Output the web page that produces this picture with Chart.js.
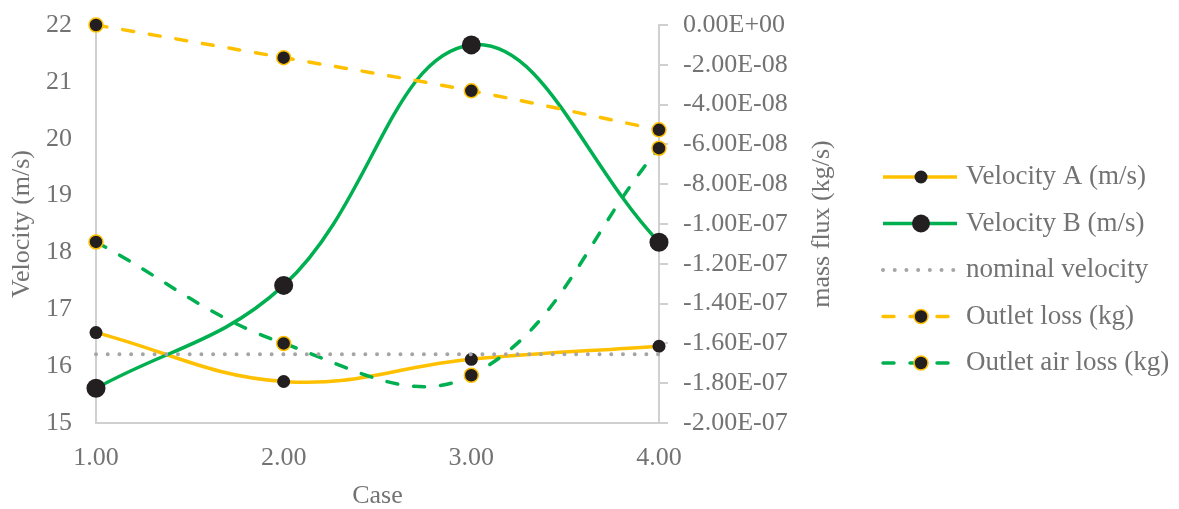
<!DOCTYPE html>
<html>
<head>
<meta charset="utf-8">
<script src="https://cdn.jsdelivr.net/npm/chart.js@4.4.1/dist/chart.umd.min.js"></script>
<style>
  html, body { margin: 0; padding: 0; background: #ffffff; }
  #wrap { position: relative; width: 1179px; height: 509px; }
</style>
</head>
<body>
<div id="wrap"><canvas id="c"></canvas></div>
<script>
// ---- data ----
const cases = [1, 2, 3, 4];
const velocityA = [16.59, 15.73, 16.12, 16.35];
const velocityB = [15.61, 17.42, 21.65, 18.18];
const nominalVelocity = [16.21, 16.21, 16.21, 16.21];
const outletLoss = [0, -1.64e-8, -3.31e-8, -5.27e-8];
const outletAirLoss = [-1.09e-7, -1.60e-7, -1.76e-7, -6.19e-8];
const seriesNames = ["Velocity A (m/s)", "Velocity B (m/s)", "nominal velocity", "Outlet loss (kg)", "Outlet air loss (kg)"];
const leftTicks = [15, 16, 17, 18, 19, 20, 21, 22];
const rightTicksRange = [-2e-7, 0];

const FONT = "'Liberation Serif', 'Times New Roman', serif";
const TXT = '#737373';
const AXIS = '#d0d0d0';
const ORANGE = '#FFC000';
const GREEN = '#00B050';
const GRAY = '#A5A5A5';
const MARK = '#231F20';

const pts = arr => cases.map((c, i) => ({ x: c, y: arr[i] }));

function sci(v) {
  if (Math.abs(v) < 1e-20) return '0.00E+00';
  const s = v.toExponential(2);
  const [m, e] = s.split('e');
  const sign = e[0] === '-' ? '-' : '+';
  const digits = e.replace(/^[-+]/, '').padStart(2, '0');
  return m + 'E' + sign + digits;
}

const legendPlugin = {
  id: 'customLegend',
  afterDraw(chart) {
    const ctx = chart.ctx;
    ctx.save();
    ctx.font = '26px ' + FONT;
    ctx.fillStyle = TXT;
    ctx.textAlign = 'center';
    ctx.textBaseline = 'middle';
    const ca = chart.chartArea;
    ctx.translate(822, (ca.top + ca.bottom) / 2);
    ctx.rotate(-Math.PI / 2);
    ctx.fillText('mass flux (kg/s)', 0, 0);
    ctx.restore();

    const x0 = 883, x1 = 957, xm = 921, xt = 966;
    chart.data.datasets.forEach((ds, i) => {
      const y = 177 + i * 46.5;
      ctx.save();
      ctx.strokeStyle = ds.borderColor;
      ctx.lineWidth = ds.borderWidth;
      ctx.lineCap = ds.borderCapStyle || 'butt';
      ctx.setLineDash(ds.borderDash || []);
      ctx.beginPath();
      ctx.moveTo(x0, y);
      ctx.lineTo(x1, y);
      ctx.stroke();
      ctx.setLineDash([]);
      if (ds.pointRadius > 0) {
        ctx.beginPath();
        ctx.arc(xm, y, Math.min(ds.pointRadius, 9), 0, Math.PI * 2);
        ctx.fillStyle = ds.pointBackgroundColor;
        ctx.fill();
        if (ds.pointBorderWidth > 0) {
          ctx.lineWidth = ds.pointBorderWidth;
          ctx.strokeStyle = ds.pointBorderColor;
          ctx.stroke();
        }
      }
      ctx.font = '27px ' + FONT;
      ctx.fillStyle = TXT;
      ctx.textAlign = 'left';
      ctx.textBaseline = 'middle';
      ctx.fillText(ds.label, xt, y);
      ctx.restore();
    });
  }
};

const noVPad = s => { s.paddingTop = 0; s.paddingBottom = 0; };

new Chart(document.getElementById('c'), {
  type: 'line',
  data: {
    datasets: [
      {
        label: seriesNames[0], data: pts(velocityA), yAxisID: 'y',
        borderColor: ORANGE, borderWidth: 3.5, tension: 0.4,
        pointRadius: 6.5, pointBackgroundColor: MARK, pointBorderColor: MARK, pointBorderWidth: 0,
        clip: false, order: 5
      },
      {
        label: seriesNames[1], data: pts(velocityB), yAxisID: 'y',
        borderColor: GREEN, borderWidth: 3.5, tension: 0.4,
        pointRadius: 9.5, pointBackgroundColor: MARK, pointBorderColor: MARK, pointBorderWidth: 0,
        clip: false, order: 4
      },
      {
        label: seriesNames[2], data: pts(nominalVelocity), yAxisID: 'y',
        borderColor: GRAY, borderWidth: 4, borderDash: [0.01, 11.7], borderCapStyle: 'round',
        tension: 0, pointRadius: 0, clip: false, order: 1
      },
      {
        label: seriesNames[3], data: pts(outletLoss), yAxisID: 'y2',
        borderColor: ORANGE, borderWidth: 3.5, borderDash: [11, 16], borderCapStyle: 'round', tension: 0.4,
        pointRadius: 7, pointBackgroundColor: MARK, pointBorderColor: ORANGE, pointBorderWidth: 1.5,
        clip: false, order: 3
      },
      {
        label: seriesNames[4], data: pts(outletAirLoss), yAxisID: 'y2',
        borderColor: GREEN, borderWidth: 3.5, borderDash: [11, 16], borderCapStyle: 'round', tension: 0.4,
        pointRadius: 7, pointBackgroundColor: MARK, pointBorderColor: ORANGE, pointBorderWidth: 1.5,
        clip: false, order: 2
      }
    ]
  },
  options: {
    responsive: true,
    maintainAspectRatio: false,
    animation: false,
    devicePixelRatio: 1,
    layout: { padding: { left: 0, right: 344, top: 25, bottom: 0 } },
    plugins: { legend: { display: false }, tooltip: { enabled: false } },
    scales: {
      x: {
        type: 'linear', position: 'bottom',
        min: cases[0], max: cases[cases.length - 1],
        afterFit: s => { s.height = 86; },
        grid: { display: false, drawTicks: false },
        border: { display: true, color: AXIS, width: 2 },
        ticks: {
          stepSize: 1, padding: 20, color: TXT,
          font: { family: FONT, size: 26 },
          callback: v => Number(v).toFixed(2)
        },
        title: { display: true, text: 'Case', color: TXT, font: { family: FONT, size: 26, lineHeight: 1 }, padding: { top: 0, bottom: 0 } }
      },
      y: {
        type: 'linear', position: 'left',
        min: leftTicks[0], max: leftTicks[leftTicks.length - 1],
        afterFit: s => { s.width = 96; noVPad(s); },
        grid: { display: false, drawTicks: false },
        border: { display: true, color: AXIS, width: 2 },
        ticks: {
          stepSize: 1, padding: 24, color: TXT,
          font: { family: FONT, size: 26 }
        },
        title: { display: true, text: 'Velocity (m/s)', color: TXT, font: { family: FONT, size: 26, lineHeight: 1 }, padding: { top: 9, bottom: 0 } }
      },
      y2: {
        type: 'linear', position: 'right',
        min: rightTicksRange[0], max: rightTicksRange[1],
        afterFit: s => { s.width = 176; noVPad(s); },
        grid: { display: true, drawOnChartArea: false, drawTicks: true, tickLength: 9, color: AXIS, lineWidth: 2 },
        border: { display: true, color: AXIS, width: 2 },
        ticks: {
          stepSize: 2e-8, padding: 15, color: TXT,
          font: { family: FONT, size: 26 },
          callback: v => sci(v)
        },
        title: { display: false }
      }
    }
  },
  plugins: [legendPlugin]
});
</script>
</body>
</html>
